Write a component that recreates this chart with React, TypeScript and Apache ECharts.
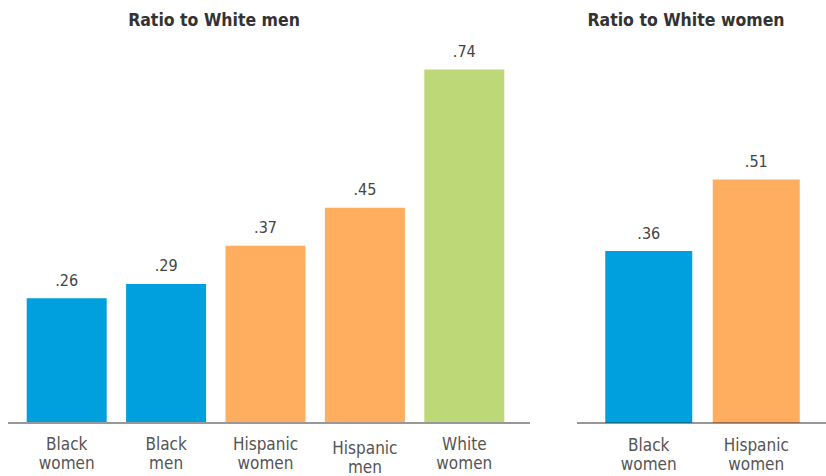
import React, { useEffect, useRef } from "react";
import * as echarts from "echarts";

const leftTitle = "Ratio to White men";
const rightTitle = "Ratio to White women";
const leftCategories = ["Black\nwomen", "Black\nmen", "Hispanic\nwomen", "Hispanic\nmen", "White\nwomen"];
const leftValues = [0.26, 0.29, 0.37, 0.45, 0.74];
const leftGroups = ["Black", "Black", "Hispanic", "Hispanic", "White"];
const rightCategories = ["Black\nwomen", "Hispanic\nwomen"];
const rightValues = [0.36, 0.51];
const rightGroups = ["Black", "Hispanic"];

const groupColors: Record<string, string> = {
  Black: "#00A0DF",
  Hispanic: "#FFAD5F",
  White: "#BDD977",
};

const FONT = "'DejaVu Sans Condensed', 'Liberation Sans Narrow', sans-serif";

const fmt = (v: number) => v.toFixed(2).replace(/^0/, "");

export default function App() {
  const ref = useRef<HTMLDivElement>(null);
  useEffect(() => {
    if (!ref.current) return;
    const chart = echarts.init(ref.current, undefined, { renderer: "svg" });
    const axisLabel = {
      interval: 0,
      fontFamily: FONT,
      fontSize: 17,
      lineHeight: 19,
      color: "#555",
      margin: 12,
    };
    const mkCats = (cats: string[]) =>
      cats.map((c) =>
        c === "Hispanic\nmen" ? { value: c, textStyle: { padding: [4, 0, 0, 0] } } : c
      );
    const mkData = (vals: number[], groups: string[]) =>
      vals.map((v, i) => ({ value: v, itemStyle: { color: groupColors[groups[i]] } }));
    const label = {
      show: true,
      position: "top",
      distance: 10,
      fontFamily: FONT,
      fontSize: 16,
      color: "#444",
      formatter: (p: any) => fmt(p.value),
    };
    const titleStyle = { fontFamily: FONT, fontSize: 17.5, fontWeight: "bold", color: "#333" };
    chart.setOption({
      animation: false,
      backgroundColor: "#fff",
      title: [
        { text: leftTitle, left: 209, top: 6, textAlign: "center", textStyle: titleStyle },
        { text: rightTitle, left: 681, top: 6, textAlign: "center", textStyle: titleStyle },
      ],
      grid: [
        { left: 17, right: 312, top: 41, bottom: 53 },
        { left: 595, right: 16, top: 41, bottom: 53 },
      ],
      xAxis: [
        {
          type: "category",
          gridIndex: 0,
          data: mkCats(leftCategories),
          axisLine: { show: false },
          axisTick: { show: false },
          axisLabel,
        },
        {
          type: "category",
          gridIndex: 1,
          data: mkCats(rightCategories),
          axisLine: { show: false },
          axisTick: { show: false },
          axisLabel,
        },
      ],
      yAxis: [
        { type: "value", gridIndex: 0, min: 0, max: 0.8, show: false },
        { type: "value", gridIndex: 1, min: 0, max: 0.8, show: false },
      ],
      series: [
        {
          type: "bar",
          xAxisIndex: 0,
          yAxisIndex: 0,
          barWidth: 80,
          data: mkData(leftValues, leftGroups),
          label,
        },
        {
          type: "bar",
          xAxisIndex: 1,
          yAxisIndex: 1,
          barWidth: 87,
          data: mkData(rightValues, rightGroups),
          label,
        },
      ],
      graphic: [
        {
          type: "line",
          shape: { x1: 8, y1: 423, x2: 530, y2: 423 },
          style: { stroke: "#333", lineWidth: 1.2 },
          z: 10,
        },
        {
          type: "line",
          shape: { x1: 577, y1: 423, x2: 826, y2: 423 },
          style: { stroke: "#333", lineWidth: 1.2 },
          z: 10,
        },
      ],
    });
    return () => chart.dispose();
  }, []);
  return (
    <div
      ref={ref}
      style={{ position: "fixed", left: 0, top: 0, width: 826, height: 476 }}
    />
  );
}
